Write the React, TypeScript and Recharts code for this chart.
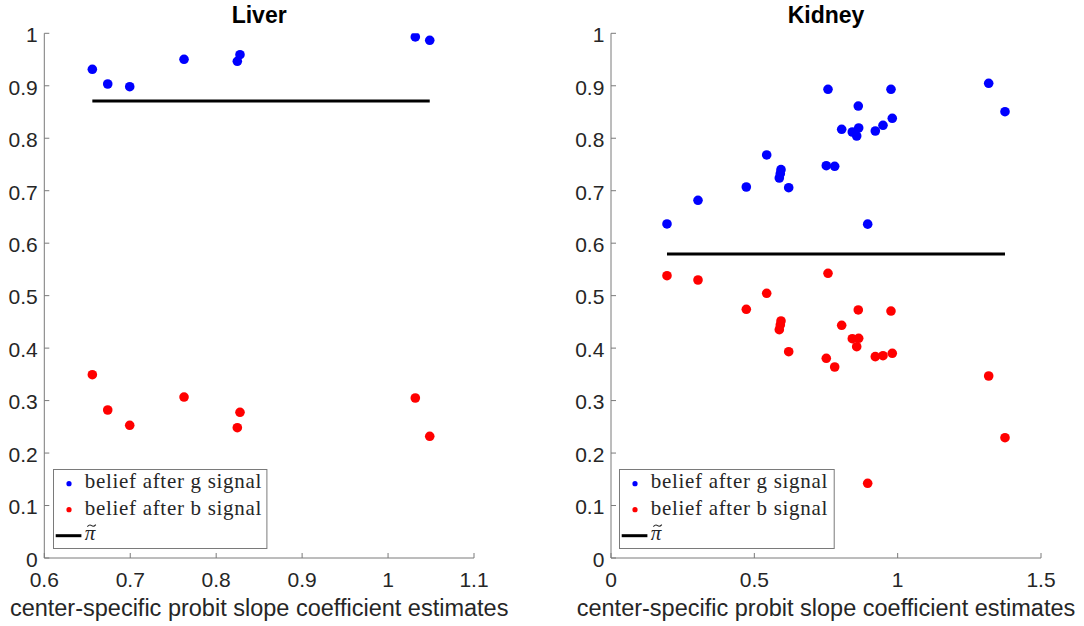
import React from 'react';
import { ScatterChart, Scatter, XAxis, YAxis, ReferenceLine, Legend } from 'recharts';

// ---------- data ----------
const liverSlopes = [0.6559, 0.6738, 0.6994, 0.7626, 0.8246, 0.8277, 1.0317, 1.0485];
const liverBeliefG = [0.9314, 0.9034, 0.8982, 0.9505, 0.9466, 0.9592, 0.993, 0.9867];
const liverBeliefB = [0.3493, 0.2821, 0.2529, 0.3068, 0.2483, 0.2777, 0.3049, 0.2319];
const liverPiTilde = 0.871;

const kidneySlopes = [
  0.1953, 0.3035, 0.472, 0.5431, 0.593, 0.5906, 0.5871, 0.6199, 0.757, 0.751, 0.7803, 0.8047,
  0.8417, 0.8571, 0.864, 0.8626, 0.8954, 0.922, 0.9488, 0.9767, 0.9812, 1.3175, 1.3744,
];
const kidneyBeliefG = [
  0.6366, 0.6817, 0.7071, 0.7681, 0.7401, 0.7324, 0.7242, 0.7057, 0.8933, 0.7477, 0.7465, 0.817,
  0.8119, 0.8043, 0.8196, 0.8614, 0.6363, 0.8138, 0.8247, 0.8933, 0.838, 0.9047, 0.8506,
];
const kidneyBeliefB = [
  0.538, 0.5298, 0.474, 0.5045, 0.4517, 0.4441, 0.4351, 0.3932, 0.5426, 0.3806, 0.364, 0.4435,
  0.418, 0.4027, 0.4187, 0.4727, 0.1424, 0.3837, 0.3856, 0.4707, 0.3901, 0.3469, 0.2293,
];
const kidneyPiTilde = 0.5794;

const yTicks = [0, 0.1, 0.2, 0.3, 0.4, 0.5, 0.6, 0.7, 0.8, 0.9, 1];
const liverXTicks = [0.6, 0.7, 0.8, 0.9, 1, 1.1];
const kidneyXTicks = [0, 0.5, 1, 1.5];

const titles = ['Liver', 'Kidney'];
const xLabel = 'center-specific probit slope coefficient estimates';
const legendLabels = ['belief after g signal', 'belief after b signal', 'π'];

// ---------- styles ----------
const AXIS = '#7a7a7a';
const TEXT = '#262626';
const SANS = '"Liberation Sans", Arial, Helvetica, sans-serif';
const SERIF = '"Liberation Serif", "Times New Roman", serif';
const BLUE = '#0000ff';
const RED = '#ff0000';

const fmt = (v: number) => String(Math.round(v * 10) / 10);

const XTick = (p: any) => {
  const { x, y, payload } = p;
  return (
    <g>
      <line x1={x} x2={x} y1={y} y2={y - 5} stroke={AXIS} strokeWidth={1} />
      <text x={x} y={y + 28.7} textAnchor="middle" fontSize={21} fontFamily={SANS} fill={TEXT}>
        {fmt(payload.value)}
      </text>
    </g>
  );
};

const YTick = (p: any) => {
  const { x, y, payload } = p;
  return (
    <g>
      <line x1={x} x2={x + 5} y1={y} y2={y} stroke={AXIS} strokeWidth={1} />
      <text x={x - 6.6} y={y + 8.8} textAnchor="end" fontSize={21} fontFamily={SANS} fill={TEXT}>
        {fmt(payload.value)}
      </text>
    </g>
  );
};

const Dot = (color: string) => (p: any) => <circle cx={p.cx} cy={p.cy} r={4.8} fill={color} />;

const LegendBox = ({ w }: { w: number }) => (
  <svg width={w} height={80} style={{ display: 'block', overflow: 'visible' }}>
    <rect x={0.5} y={0.5} width={w - 1} height={79} fill="#ffffff" stroke={AXIS} strokeWidth={1} />
    <circle cx={16} cy={14.7} r={2.6} fill={BLUE} />
    <text x={31.7} y={19} fontSize={21} fontFamily={SERIF} letterSpacing={0.7} fill={TEXT}>
      {legendLabels[0]}
    </text>
    <circle cx={16} cy={40.7} r={2.6} fill={RED} />
    <text x={31.7} y={45.7} fontSize={21} fontFamily={SERIF} letterSpacing={0.7} fill={TEXT}>
      {legendLabels[1]}
    </text>
    <line x1={2.7} x2={28.4} y1={66.7} y2={66.7} stroke="#000" strokeWidth={3} />
    <text x={31.7} y={70.7} fontSize={21} fontFamily={SERIF} fontStyle="italic" fill={TEXT}>
      {legendLabels[2]}
    </text>
    <path d="M34.4 57.6 q2.1 -2.6 4.2 -1 t4.2 -1" fill="none" stroke={TEXT} strokeWidth={1.1} />
  </svg>
);

type PanelProps = {
  left: number;
  plotLeft: number;
  plotRight: number;
  xDomain: [number, number];
  xTicks: number[];
  slopes: number[];
  g: number[];
  b: number[];
  pi: number;
  title: string;
  legendLeft: number;
  legendWidth: number;
};

const W = 542;
const H = 626;
const PLOT_TOP = 33.3;
const PLOT_BOTTOM = 558;

const Panel = (props: PanelProps) => {
  const { left, plotLeft, plotRight, xDomain, xTicks, slopes, g, b, pi, title, legendLeft, legendWidth } = props;
  const gData = slopes.map((x, i) => ({ x, y: g[i] }));
  const bData = slopes.map((x, i) => ({ x, y: b[i] }));
  const xMin = Math.min(...slopes);
  const xMax = Math.max(...slopes);
  const plotCx = (plotLeft + plotRight) / 2;
  return (
    <div style={{ position: 'absolute', left, top: 0, width: W, height: H }}>
      <ScatterChart
        width={W}
        height={H}
        margin={{ top: PLOT_TOP, left: 0, right: W - plotRight, bottom: 0 }}
      >
        <XAxis
          type="number"
          dataKey="x"
          domain={xDomain}
          ticks={xTicks}
          allowDataOverflow
          height={H - PLOT_BOTTOM}
          tickSize={0}
          tickMargin={0}
          tickLine={false}
          axisLine={{ stroke: AXIS, strokeWidth: 1 }}
          tick={XTick}
          interval={0}
        />
        <YAxis
          type="number"
          dataKey="y"
          domain={[0, 1]}
          ticks={yTicks}
          allowDataOverflow
          width={plotLeft}
          tickSize={0}
          tickMargin={0}
          tickLine={false}
          axisLine={{ stroke: AXIS, strokeWidth: 1 }}
          tick={YTick}
          interval={0}
        />
        <ReferenceLine
          segment={[
            { x: xMin, y: pi },
            { x: xMax, y: pi },
          ]}
          stroke="#000"
          strokeWidth={3}
          ifOverflow="visible"
        />
        <Scatter data={gData} fill={BLUE} shape={Dot(BLUE)} isAnimationActive={false} />
        <Scatter data={bData} fill={RED} shape={Dot(RED)} isAnimationActive={false} />
        <Legend
          layout="vertical"
          align="center"
          verticalAlign="middle"
          wrapperStyle={{ left: legendLeft, top: 469.3, width: legendWidth, height: 80, position: 'absolute' }}
          content={() => <LegendBox w={legendWidth} />}
        />
      </ScatterChart>
      <svg
        width={W}
        height={H}
        style={{ position: 'absolute', left: 0, top: 0, pointerEvents: 'none' }}
      >
        <text x={plotCx} y={22.7} textAnchor="middle" fontSize={23} fontWeight="bold" fontFamily={SANS} fill="#000">
          {title}
        </text>
        <text x={plotCx} y={616} textAnchor="middle" fontSize={23.5} fontFamily={SANS} fill={TEXT}>
          {xLabel}
        </text>
      </svg>
    </div>
  );
};

export default function App() {
  return (
    <div style={{ position: 'absolute', left: 0, top: 0, width: 1084, height: 626, background: '#ffffff' }}>
      <Panel
        left={0}
        plotLeft={44.3}
        plotRight={474}
        xDomain={[0.6, 1.1]}
        xTicks={liverXTicks}
        slopes={liverSlopes}
        g={liverBeliefG}
        b={liverBeliefB}
        pi={liverPiTilde}
        title={titles[0]}
        legendLeft={53.3}
        legendWidth={214.4}
      />
      <Panel
        left={542}
        plotLeft={611 - 542}
        plotRight={1041 - 542}
        xDomain={[0, 1.5]}
        xTicks={kidneyXTicks}
        slopes={kidneySlopes}
        g={kidneyBeliefG}
        b={kidneyBeliefB}
        pi={kidneyPiTilde}
        title={titles[1]}
        legendLeft={619.3 - 542}
        legendWidth={215.7}
      />
    </div>
  );
}
